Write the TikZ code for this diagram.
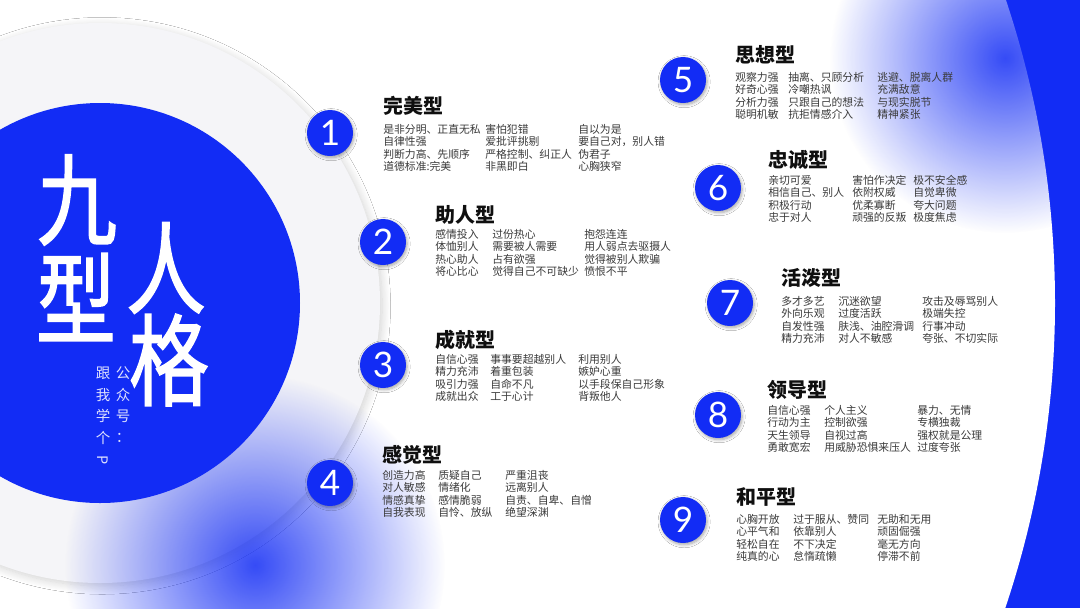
\documentclass[tikz,border=0pt]{standalone}
\usepackage{fontspec}
\setmainfont{Noto Sans CJK SC}
\newfontfamily\numfont{Lato}
\newfontfamily\titlefont[FakeBold=1.6]{Noto Sans CJK SC}
\usetikzlibrary{shadows.blur,fadings}
\definecolor{cBlue}{RGB}{18,44,245}
\definecolor{cDisk}{RGB}{245,245,248}
\definecolor{cRim}{RGB}{230,230,236}
\definecolor{cText}{RGB}{58,58,58}
\definecolor{cHead}{RGB}{15,15,15}
\pgfdeclareradialshading{bigdisk}{\pgfpoint{0bp}{0bp}}{color(0bp)=(white); color(45bp)=(white); color(50bp)=(cRim)}
\tikzfading[name=blobfade, inner color=transparent!15, outer color=transparent!100]
\tikzset{
  numdot/.style={
    circle, fill=cBlue, minimum size=11.5mm, inner sep=0pt,
    blur shadow={shadow blur steps=6, shadow xshift=0.8pt, shadow yshift=-1.2pt, shadow opacity=35},
    text=white, font=\numfont\fontsize{25}{25}\selectfont,
  },
  typehead/.style={anchor=base west, inner sep=0pt, text=cHead, font=\fontsize{14.2}{15}\selectfont\bfseries},
  traits/.style={anchor=base west, inner sep=0pt, text=cText, font=\fontsize{7.7}{8}\selectfont},
  bigchar/.style={inner sep=0pt, text=white, font=\titlefont\fontsize{71}{71}\selectfont, xscale=0.8},
  vchar/.style={inner sep=0pt, text=white!86!cBlue, font=\fontsize{10.3}{11}\selectfont},
}

\begin{document}
\begin{tikzpicture}[x=0.025cm, y=-0.025cm]

\useasboundingbox (0,0) rectangle (1080,608);
\clip (0,0) rectangle (1080,608);

% ===== background rings =====
\fill[cBlue] (0,0) rectangle (1080,608);
\fill[white] (100,303) circle (955);
\shade[shading=bigdisk] (100,303) circle (627);
\fill[cDisk, blur shadow={shadow blur steps=10, shadow blur radius=6pt, shadow xshift=1.5pt, shadow yshift=-2pt, shadow opacity=18}]
  (100,303) circle (280);

% ===== soft blue blobs =====
\fill[cBlue, path fading=blobfade] (255,565) circle (190);
\fill[cBlue, path fading=blobfade] (1005,58) circle (175);

% ===== left: title disk =====
\fill[cBlue] (100,303) circle (200);
\node[bigchar] (ch1) at (77,200) {九};
\node[bigchar] (ch2) at (76,297) {型};
\node[bigchar] (ch3) at (166,268) {人};
\node[bigchar] (ch4) at (169,360) {格};

\foreach \ch [count=\i] in {公,众,号,：}
  \node[vchar] (pub\i) at (123,{373+21.7*(\i-1)}) {\ch};
\foreach \ch [count=\i] in {跟,我,学,个,\rotatebox{-90}{P}}
  \node[vchar] (me\i) at (103,{373+21.7*(\i-1)}) {\ch};

% ===== number dots =====
\foreach \n/\x/\y in {1/330/133, 2/383/242, 3/383/365, 4/330/483,
                      5/683/80, 6/718/188, 7/730/303, 8/718/415, 9/683/520}
  \node[numdot] (n\n) at (\x,\y) {\n};

% ===== type 1-4 =====
\node[typehead] (h1) at (383,113.6) {完美型};
\node[traits] (t1) at (383,133)
  {\begin{tabular}[t]{@{}p{2.55cm}@{}p{2.325cm}@{}l@{}}
   是非分明、正直无私 & 害怕犯错 & 自以为是\\
   自律性强 & 爱批评挑剔 & 要自己对，别人错\\
   判断力高、先顺序 & 严格控制、纠正人 & 伪君子\\
   道德标准:完美 & 非黑即白 & 心胸狭窄
   \end{tabular}};

\node[typehead] (h2) at (435,222.6) {助人型};
\node[traits] (t2) at (435,238)
  {\begin{tabular}[t]{@{}p{1.425cm}@{}p{2.3cm}@{}l@{}}
   感情投入 & 过份热心 & 抱怨连连\\
   体恤别人 & 需要被人需要 & 用人弱点去驱摄人\\
   热心助人 & 占有欲强 & 觉得被别人欺骗\\
   将心比心 & 觉得自己不可缺少 & 愤恨不平
   \end{tabular}};

\node[typehead] (h3) at (435,347.6) {成就型};
\node[traits] (t3) at (435,363)
  {\begin{tabular}[t]{@{}p{1.375cm}@{}p{2.2cm}@{}l@{}}
   自信心强 & 事事要超越别人 & 利用别人\\
   精力充沛 & 着重包装 & 嫉妒心重\\
   吸引力强 & 自命不凡 & 以手段保自己形象\\
   成就出众 & 工于心计 & 背叛他人
   \end{tabular}};

\node[typehead] (h4) at (382,462.6) {感觉型};
\node[traits] (t4) at (382,479)
  {\begin{tabular}[t]{@{}p{1.4cm}@{}p{1.675cm}@{}l@{}}
   创造力高 & 质疑自己 & 严重沮丧\\
   对人敏感 & 情绪化 & 远离别人\\
   情感真挚 & 感情脆弱 & 自责、自卑、自憎\\
   自我表现 & 自怜、放纵 & 绝望深渊
   \end{tabular}};

% ===== type 5-9 =====
\node[typehead] (h5) at (735,62.6) {思想型};
\node[traits] (t5) at (735,81)
  {\begin{tabular}[t]{@{}p{1.325cm}@{}p{2.225cm}@{}l@{}}
   观察力强 & 抽离、只顾分析 & 逃避、脱离人群\\
   好奇心强 & 冷嘲热讽 & 充满敌意\\
   分析力强 & 只跟自己的想法 & 与现实脱节\\
   聪明机敏 & 抗拒情感介入 & 精神紧张
   \end{tabular}};

\node[typehead] (h6) at (768,167.6) {忠诚型};
\node[traits] (t6) at (768,184)
  {\begin{tabular}[t]{@{}p{2.1cm}@{}p{1.525cm}@{}l@{}}
   亲切可爱 & 害怕作决定 & 极不安全感\\
   相信自己、别人 & 依附权威 & 自觉卑微\\
   积极行动 & 优柔寡断 & 夸大问题\\
   忠于对人 & 顽强的反叛 & 极度焦虑
   \end{tabular}};

\node[typehead] (h7) at (781,285.6) {活泼型};
\node[traits] (t7) at (781,305)
  {\begin{tabular}[t]{@{}p{1.425cm}@{}p{2.1cm}@{}l@{}}
   多才多艺 & 沉迷欲望 & 攻击及辱骂别人\\
   外向乐观 & 过度活跃 & 极端失控\\
   自发性强 & 肤浅、油腔滑调 & 行事冲动\\
   精力充沛 & 对人不敏感 & 夸张、不切实际
   \end{tabular}};

\node[typehead] (h8) at (767,397.6) {领导型};
\node[traits] (t8) at (767,414)
  {\begin{tabular}[t]{@{}p{1.425cm}@{}p{2.325cm}@{}l@{}}
   自信心强 & 个人主义 & 暴力、无情\\
   行动为主 & 控制欲强 & 专横独裁\\
   天生领导 & 自视过高 & 强权就是公理\\
   勇敢宽宏 & 用威胁恐惧来压人 & 过度夸张
   \end{tabular}};

\node[typehead] (h9) at (736,504.6) {和平型};
\node[traits] (t9) at (736,523)
  {\begin{tabular}[t]{@{}p{1.425cm}@{}p{2.1cm}@{}l@{}}
   心胸开放 & 过于服从、赞同 & 无助和无用\\
   心平气和 & 依靠别人 & 顽固倔强\\
   轻松自在 & 不下决定 & 毫无方向\\
   纯真的心 & 怠惰疏懒 & 停滞不前
   \end{tabular}};

\end{tikzpicture}
\end{document}
